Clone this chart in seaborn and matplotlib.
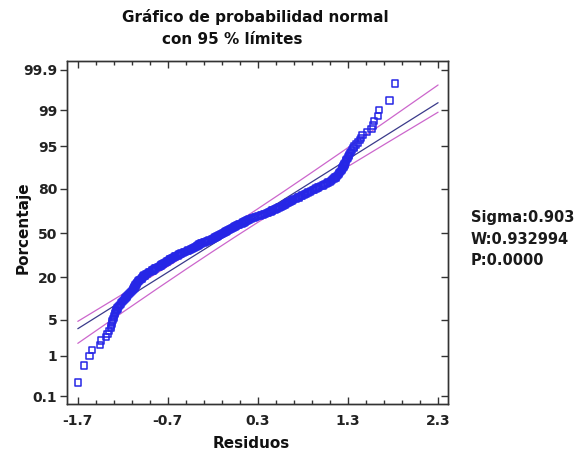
from statistics import NormalDist

import matplotlib
matplotlib.use("Agg")
import matplotlib.pyplot as plt
import numpy as np
import seaborn as sns

# Sorted residuals (n = 270)
residuos = [
    -1.70, -1.63, -1.57, -1.54, -1.45, -1.44, -1.39, -1.37, -1.35, -1.33,
    -1.33, -1.32, -1.32, -1.31, -1.30, -1.30, -1.29, -1.29, -1.28, -1.27,
    -1.26, -1.25, -1.24, -1.23, -1.22, -1.21, -1.20, -1.19, -1.18, -1.17,
    -1.16, -1.15, -1.14, -1.13, -1.12, -1.11, -1.10, -1.09, -1.09, -1.08,
    -1.07, -1.07, -1.06, -1.06, -1.05, -1.04, -1.04, -1.03, -1.03, -1.02,
    -1.01, -1.00, -0.99, -0.99, -0.98, -0.97, -0.96, -0.96, -0.94, -0.93,
    -0.92, -0.91, -0.90, -0.88, -0.87, -0.86, -0.85, -0.84, -0.83, -0.81,
    -0.80, -0.79, -0.78, -0.77, -0.76, -0.75, -0.74, -0.73, -0.72, -0.71,
    -0.70, -0.69, -0.68, -0.67, -0.67, -0.65, -0.64, -0.63, -0.62, -0.61,
    -0.59, -0.58, -0.57, -0.56, -0.55, -0.53, -0.52, -0.51, -0.49, -0.48,
    -0.47, -0.45, -0.44, -0.43, -0.42, -0.41, -0.40, -0.39, -0.38, -0.37,
    -0.36, -0.35, -0.34, -0.33, -0.32, -0.30, -0.29, -0.28, -0.26, -0.25,
    -0.24, -0.22, -0.21, -0.20, -0.19, -0.18, -0.17, -0.16, -0.15, -0.14,
    -0.13, -0.12, -0.11, -0.10, -0.09, -0.08, -0.07, -0.06, -0.05, -0.04,
    -0.03, -0.02, -0.01, 0.00, 0.01, 0.02, 0.03, 0.04, 0.05, 0.06,
    0.07, 0.08, 0.09, 0.10, 0.12, 0.13, 0.14, 0.15, 0.16, 0.17,
    0.18, 0.19, 0.20, 0.22, 0.23, 0.25, 0.27, 0.28, 0.30, 0.32,
    0.33, 0.35, 0.37, 0.38, 0.40, 0.41, 0.42, 0.44, 0.45, 0.46,
    0.47, 0.49, 0.50, 0.51, 0.53, 0.54, 0.55, 0.57, 0.58, 0.59,
    0.60, 0.61, 0.62, 0.63, 0.64, 0.65, 0.67, 0.68, 0.69, 0.70,
    0.72, 0.73, 0.75, 0.76, 0.78, 0.79, 0.81, 0.82, 0.83, 0.85,
    0.86, 0.88, 0.89, 0.91, 0.92, 0.94, 0.95, 0.97, 0.98, 1.00,
    1.02, 1.03, 1.05, 1.07, 1.08, 1.10, 1.11, 1.12, 1.14, 1.15,
    1.16, 1.17, 1.18, 1.19, 1.20, 1.20, 1.21, 1.22, 1.23, 1.23,
    1.24, 1.25, 1.25, 1.26, 1.26, 1.27, 1.28, 1.28, 1.29, 1.30,
    1.31, 1.31, 1.32, 1.33, 1.34, 1.36, 1.37, 1.39, 1.41, 1.43,
    1.44, 1.46, 1.51, 1.56, 1.58, 1.59, 1.63, 1.64, 1.76, 1.82,
]

# Axis ticks
x_ticks = [-1.7, -0.7, 0.3, 1.3, 2.3]
pct_ticks = [0.1, 1, 5, 20, 50, 80, 95, 99, 99.9]
pct_labels = ["0.1", "1", "5", "20", "50", "80", "95", "99", "99.9"]

# Summary statistics shown beside the plot
sigma = 0.903
w_stat = 0.932994
p_value = 0.0

# Fitted reference line and half-width of the 95 % band (in normal-score units)
fit_center = -0.006
fit_scale = 0.934
band_base = 0.125
band_slope = 0.098

nd = NormalDist()
n = len(residuos)
# Blom plotting positions -> normal scores
scores = [nd.inv_cdf((i - 0.375) / (n + 0.25)) for i in range(1, n + 1)]

sns.set_style("ticks")
plt.rcParams["font.family"] = ["DejaVu Sans"]
plt.rcParams["font.weight"] = "bold"

fig = plt.figure(figsize=(5.75, 4.53), dpi=100)
ax = fig.add_axes([0.1165, 0.1082, 0.6626, 0.7572])

xs = np.linspace(x_ticks[0], x_ticks[-1], 200)
half = np.sqrt(band_base ** 2 + (band_slope * xs) ** 2)
sns.lineplot(x=xs, y=xs / sigma + half, color="#cc66cc", lw=0.9, ax=ax)
sns.lineplot(x=xs, y=xs / sigma - half, color="#cc66cc", lw=0.9, ax=ax)
sns.lineplot(x=xs, y=(xs - fit_center) / fit_scale, color="#3a3a8a", lw=0.9, ax=ax)

sns.scatterplot(x=residuos, y=scores, marker="s", s=20, ax=ax, zorder=3)
pts = ax.collections[-1]
pts.set_facecolor("none")
pts.set_edgecolor("#2626e6")
pts.set_linewidth(1.1)

ax.set_xlim(-1.82, 2.41)
ax.set_ylim(-3.24, 3.26)
ax.set_xticks(x_ticks)
ax.set_xticklabels([f"{t:.1f}" for t in x_ticks])
ax.set_xticks(np.arange(-1.5, 2.3, 0.2), minor=True)
ax.set_yticks([nd.inv_cdf(p / 100) for p in pct_ticks])
ax.set_yticklabels(pct_labels)

ax.tick_params(axis="x", which="both", direction="in", top=True, bottom=True,
               colors="#333333", labelcolor="#222222", labelsize=10, pad=7)
ax.tick_params(axis="x", which="major", length=5, width=1)
ax.tick_params(axis="x", which="minor", length=3, width=1)
ax.tick_params(axis="y", which="major", direction="out", length=5, width=1,
               left=True, right=False, colors="#333333", labelcolor="#222222",
               labelsize=10, pad=2)
for lab in ax.get_xticklabels() + ax.get_yticklabels():
    lab.set_fontweight("bold")

# inward ticks on the right spine
ax_r = ax.twinx()
ax_r.set_ylim(ax.get_ylim())
ax_r.set_yticks(ax.get_yticks())
ax_r.tick_params(axis="y", direction="in", length=5, width=1, labelright=False,
                 colors="#333333")
ax_r.grid(False)

for a in (ax, ax_r):
    for sp in a.spines.values():
        sp.set_visible(True)
        sp.set_color("#333333")
        sp.set_linewidth(1)

ax.set_xlabel("")
ax.set_ylabel("")

fig.text(0.4447, 0.9614, "Gráfico de probabilidad normal", ha="center", va="center",
         fontsize=11, fontweight="bold", color="#111111")
fig.text(0.4035, 0.9139, "con 95 % límites", ha="center", va="center",
         fontsize=11, fontweight="bold", color="#111111")
fig.text(0.4374, 0.022, "Residuos", ha="center", va="center",
         fontsize=11, fontweight="bold", color="#111111")
fig.text(0.0409, 0.4967, "Porcentaje", ha="center", va="center", rotation=90,
         fontsize=11, fontweight="bold", color="#111111")

stats = [f"Sigma:{sigma:.3f}", f"W:{w_stat:.6f}", f"P:{p_value:.4f}"]
for k, s in enumerate(stats):
    fig.text(0.8186, 0.5188 - 0.0464 * k, s, ha="left", va="center",
             fontsize=10.5, fontweight="bold", color="#1a1a1a")

fig.savefig("out.png", dpi=100, facecolor="white")
